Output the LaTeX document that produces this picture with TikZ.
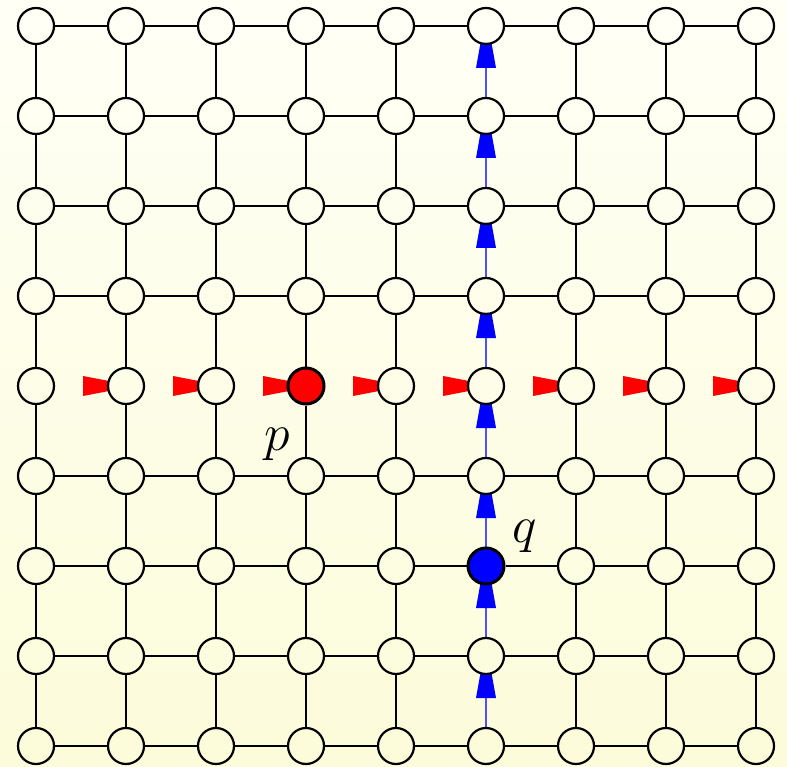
\documentclass[tikz,border=0pt]{standalone}
\usetikzlibrary{calc}
\pgfdeclarelayer{bg}
\pgfdeclarelayer{back}
\pgfsetlayers{bg,back,main}
\definecolor{bgtop}{RGB}{255,255,246}
\definecolor{bgbot}{RGB}{252,252,218}
\definecolor{bluel}{RGB}{80,80,255}
\begin{document}
\begin{tikzpicture}[x=1pt,y=-1pt,
  vtx/.style={circle,draw=black,line width=2.2pt,minimum size=36pt,inner sep=0pt},
  v-3-4/.style={fill=red,line width=3pt},
  v-5-6/.style={fill=blue,line width=3pt},
  gridedge/.style={line width=2.5pt,draw=black},
  blueedge/.style={line width=2.3pt,draw=bluel},
  lbl/.style={inner sep=0pt,font=\huge,scale=2.5}]
\begin{pgfonlayer}{bg}
\shade[top color=bgtop,bottom color=bgbot] (0,0) rectangle (787,767);
\end{pgfonlayer}
\useasboundingbox (0,0) rectangle (787,767);
% vertices
\foreach \i in {0,...,8}{
  \foreach \j in {0,...,8}{
    \node[vtx,v-\i-\j/.try] (n-\i-\j) at (36+90*\i,26+90*\j) {};
  }
}
% horizontal edges (all rows but the red one)
\foreach \j in {0,1,2,3,5,6,7,8}{
  \foreach \i in {0,...,7}{
    \pgfmathtruncatemacro{\k}{\i+1}
    \draw[gridedge] (n-\i-\j) -- (n-\k-\j);
  }
}
% vertical edges (all columns but the blue one)
\foreach \i in {0,1,2,3,4,6,7,8}{
  \foreach \j in {0,...,7}{
    \pgfmathtruncatemacro{\k}{\j+1}
    \draw[gridedge] (n-\i-\j) -- (n-\i-\k);
  }
}
% blue column with arrowheads
\begin{pgfonlayer}{back}
\foreach \j in {0,...,7}{
  \pgfmathtruncatemacro{\k}{\j+1}
  \draw[blueedge] (n-5-\k) -- ($(n-5-\j.center)+(0,41)$);
  \begin{scope}[shift={(n-5-\j.center)}]
    \fill[blue] (-10,42) -- (-5.5,17) -- (5.5,17) -- (10,42) -- cycle;
  \end{scope}
}
% red arrowheads
\foreach \i in {1,...,8}{
  \begin{scope}[shift={(n-\i-4.center)}]
    \fill[red] (-43,-10) -- (-17,-5) -- (-17,5) -- (-43,10) -- cycle;
  \end{scope}
}
\end{pgfonlayer}
% labels
\node[lbl] (p) at (277,444) {$p$};
\node[lbl] (q) at (525,536) {$q$};
\end{tikzpicture}
\end{document}
